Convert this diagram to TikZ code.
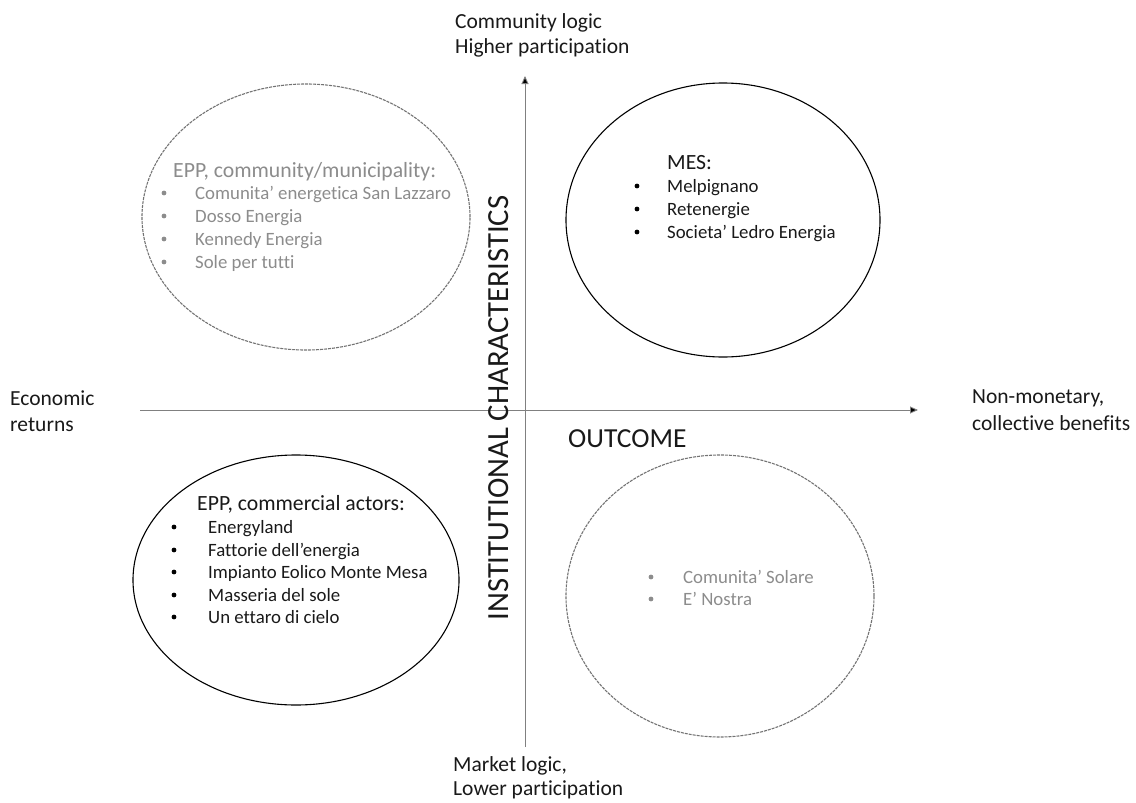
\documentclass[tikz,border=0pt]{standalone}
\usepackage{fontspec}
\setmainfont{Carlito}[Ligatures=NoCommon]
\usetikzlibrary{shapes.geometric,arrows.meta}
\begin{document}
\begin{tikzpicture}[x=1pt,y=-1pt,
  txt/.style={anchor=base west,inner sep=0pt,font=\fontsize{18.8}{23}\selectfont,text=black!90},
  gtxt/.style={txt,text=black!45},
  head/.style={txt,font=\fontsize{21.7}{25}\selectfont},
  ghead/.style={head,text=black!45},
  bul/.style={circle,fill=black,inner sep=0pt,minimum size=4.8pt},
  gbul/.style={bul,fill=black!45},
  lab/.style={anchor=base west,inner sep=0pt,font=\fontsize{21.5}{25}\selectfont,text=black!90},
  solidell/.style={draw=black,line width=1.1pt,ellipse,inner sep=0pt},
  dashell/.style={draw=black!55,line width=1.1pt,dash pattern=on 3pt off 1pt,ellipse,inner sep=0pt},
  axis/.style={draw=black!50,line width=0.9pt,-{Triangle[length=8pt,width=7pt,fill=black]}}
]
\useasboundingbox (0,0) rectangle (1136,803);
% axes
\coordinate (hs) at (140,410);
\coordinate (he) at (918,410);
\coordinate (vs) at (525,747);
\coordinate (ve) at (525,76);
\draw[axis] (hs) -- (he);
\draw[axis] (vs) -- (ve);
% ellipses
\node[dashell,minimum width=328pt,minimum height=266pt] (tl) at (306,217) {};
\node[solidell,minimum width=314pt,minimum height=274pt] (tr) at (723,220) {};
\node[solidell,minimum width=326pt,minimum height=250pt] (bl) at (296,580) {};
\node[dashell,minimum width=308pt,minimum height=282pt] (br) at (720,596) {};
% top-left text
\node[ghead] (tlh) at (173,177) {EPP, community/municipality:};
\node[gbul] (tlb1) at (164,193) {};
\node[gtxt] (tl1) at (195,199) {Comunita’ energetica San Lazzaro};
\node[gbul] (tlb2) at (164,216) {};
\node[gtxt] (tl2) at (195,222) {Dosso Energia};
\node[gbul] (tlb3) at (164,239) {};
\node[gtxt] (tl3) at (195,245) {Kennedy Energia};
\node[gbul] (tlb4) at (164,262) {};
\node[gtxt] (tl4) at (195,268) {Sole per tutti};
% top-right text
\node[head] (trh) at (667,169) {MES:};
\node[bul] (trb1) at (637,186) {};
\node[txt] (tr1) at (667,192) {Melpignano};
\node[bul] (trb2) at (637,209) {};
\node[txt] (tr2) at (667,215) {Retenergie};
\node[bul] (trb3) at (637,232) {};
\node[txt] (tr3) at (667,238) {Societa’ Ledro Energia};
% bottom-left text
\node[head] (blh) at (197,510) {EPP, commercial actors:};
\node[bul] (blb1) at (174,527) {};
\node[txt] (bl1) at (208,533) {Energyland};
\node[bul] (blb2) at (174,550) {};
\node[txt] (bl2) at (208,556) {Fattorie dell’energia};
\node[bul] (blb3) at (174,572) {};
\node[txt] (bl3) at (208,578) {Impianto Eolico Monte Mesa};
\node[bul] (blb4) at (174,595) {};
\node[txt] (bl4) at (208,601) {Masseria del sole};
\node[bul] (blb5) at (174,617) {};
\node[txt] (bl5) at (208,623) {Un ettaro di cielo};
% bottom-right text
\node[gbul] (brb1) at (651,577) {};
\node[gtxt] (br1) at (683,583) {Comunita’ Solare};
\node[gbul] (brb2) at (651,599) {};
\node[gtxt] (br2) at (683,605) {E’ Nostra};
% axis labels
\node[lab] (top1) at (455,28) {Community logic};
\node[lab] (top2) at (455,53) {Higher participation};
\node[lab] (bot1) at (453,771) {Market logic,};
\node[lab] (bot2) at (453,795) {Lower participation};
\node[lab] (left1) at (10,405) {Economic};
\node[lab] (left2) at (10,431) {returns};
\node[lab] (right1) at (972,403) {Non-monetary,};
\node[lab] (right2) at (972,430) {collective benefits};
\node[inner sep=0pt,rotate=90,text=black!90] (inst) at (499,408) {\resizebox{425pt}{!}{\fontsize{27}{30}\selectfont INSTITUTIONAL CHARACTERISTICS}};
\node[anchor=base west,inner sep=0pt,font=\fontsize{27.5}{30}\selectfont,text=black!90] (out) at (568,447) {OUTCOME};
\end{tikzpicture}
\end{document}
